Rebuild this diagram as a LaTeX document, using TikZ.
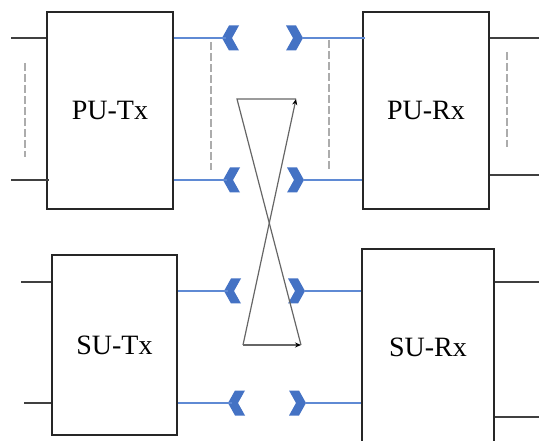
\documentclass[tikz,border=0pt]{standalone}
\usepackage{fontspec}
\setmainfont{Liberation Serif}
\usetikzlibrary{arrows.meta,calc}

\definecolor{chevblue}{RGB}{68,114,196}
\definecolor{linkblue}{RGB}{95,138,212}

\begin{document}
\begin{tikzpicture}[
    x=1pt, y=-1pt,
    unit/.style={draw=black!85, line width=1.6pt, minimum width=#1, font=\fontsize{28}{32}\selectfont},
    wire/.style={black!75, line width=1.6pt},
    link/.style={linkblue, line width=1.5pt},
    guide/.style={gray!65, line width=1.4pt, dash pattern=on 8pt off 3pt},
    xline/.style={black!60, line width=1.2pt},
    xarrow/.style={xline, -{Stealth[length=6pt, width=5pt, black]}},
    chevl/.pic={\fill[chevblue] (0,0) -- (7,-12.5) -- (17,-12.5) -- (10,0) -- (17,12.5) -- (7,12.5) -- cycle;},
    chevr/.pic={\fill[chevblue] (0,0) -- (-7,-12.5) -- (-17,-12.5) -- (-10,0) -- (-17,12.5) -- (-7,12.5) -- cycle;},
]

\clip (0,0) rectangle (539,441);
\useasboundingbox (0,0) rectangle (539,441);

% Boxes
\node[unit=126pt, minimum height=197pt] (putx) at (110,110.5) {PU-Tx};
\node[unit=126pt, minimum height=197pt] (purx) at (426,110.5) {PU-Rx};
\node[unit=125pt, minimum height=180pt] (sutx) at (114.5,345) {SU-Tx};
\node[unit=132pt, minimum height=196pt] (surx) at (428,347) {SU-Rx};

% Outer wires
\coordinate (pt1) at (11,38);   \coordinate (pt2) at (11,180);
\coordinate (pr1) at (539,38);  \coordinate (pr2) at (539,175);
\coordinate (st1) at (21,282);  \coordinate (st2) at (24,403);
\coordinate (sr1) at (539,282); \coordinate (sr2) at (539,417);
\draw[wire] (pt1) -- (pt1 -| putx.west);
\draw[wire] (pt2) -- ($(pt2 -| putx.west)+(3,0)$);
\draw[wire] (pr1) -- (pr1 -| purx.east);
\draw[wire] (pr2) -- (pr2 -| purx.east);
\draw[wire] (st1) -- (st1 -| sutx.west);
\draw[wire] (st2) -- (st2 -| sutx.west);
\draw[wire] (sr1) -- (sr1 -| surx.east);
\draw[wire] (sr2) -- (sr2 -| surx.east);

% Antenna chevrons
\coordinate (ca1) at (222,38);  \coordinate (cb1) at (303,38);
\coordinate (ca2) at (223,180); \coordinate (cb2) at (304,180);
\coordinate (ca3) at (224,291); \coordinate (cb3) at (305,291);
\coordinate (ca4) at (228,403); \coordinate (cb4) at (306,403);
\foreach \i in {1,2,3,4} {
    \pic at (ca\i) {chevl};
    \pic at (cb\i) {chevr};
}

% Blue links
\draw[link] (ca1 -| putx.east) -- ($(ca1)+(4,0)$);
\draw[link] (ca2 -| putx.east) -- ($(ca2)+(4,0)$);
\draw[link] (ca3 -| sutx.east) -- ($(ca3)+(4,0)$);
\draw[link] (ca4 -| sutx.east) -- ($(ca4)+(4,0)$);
\draw[link] (cb1) -- ($(cb1 -| purx.west)+(3,0)$);
\draw[link] (cb2) -- (cb2 -| purx.west);
\draw[link] (cb3) -- (cb3 -| surx.west);
\draw[link] (cb4) -- (cb4 -| surx.west);

% Dashed guides
\draw[guide] (25,63) -- (25,157);
\draw[guide] (211,42) -- (211,170);
\draw[guide] (329,40) -- (329,170);
\draw[guide] (507,52) -- (507,147);

% Crossed paths
\coordinate (xtl) at (237,99);  \coordinate (xtr) at (296,99);
\coordinate (xbl) at (243,345); \coordinate (xbr) at (301,345);
\draw[xline] (xtr) -- (xtl) -- (xbr);
\draw[xarrow] (xbl) -- (xtr);
\draw[xarrow] (xbl) -- (xbr);

\end{tikzpicture}
\end{document}
